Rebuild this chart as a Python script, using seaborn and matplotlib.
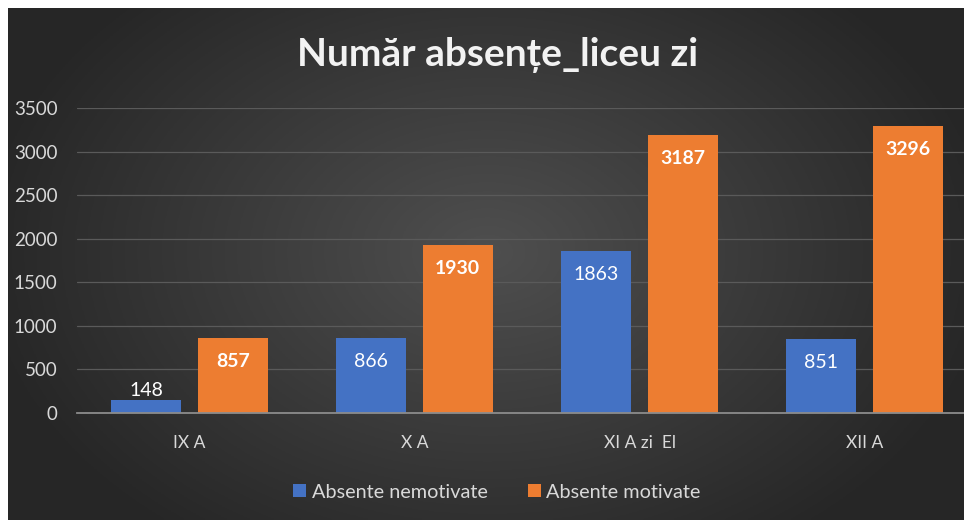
import numpy as np
import pandas as pd
import seaborn as sns
import matplotlib.pyplot as plt

# date
clase = ["IX A", "X A", "XI A zi  El", "XII A"]
nemotivate = [148, 866, 1863, 851]
motivate = [857, 1930, 3187, 3296]
serii = ["Absente nemotivate", "Absente motivate"]
culori = ["#4472C4", "#ED7D31"]

df = pd.DataFrame({
    "clasa": clase * 2,
    "valoare": nemotivate + motivate,
    "tip": [serii[0]] * len(clase) + [serii[1]] * len(clase),
})

sns.set_style("dark")
plt.rcParams["font.family"] = ["Lato", "DejaVu Sans"]

W, H = 964, 520
fig = plt.figure(figsize=(W / 100, H / 100), dpi=100, facecolor="white")

# fundal gri inchis cu gradient radial
bg = fig.add_axes([8 / W, 0, (W - 8) / W, (H - 8) / H])
yy, xx = np.mgrid[0:200, 0:300]
r = np.sqrt(((xx - 150) / 150) ** 2 + ((yy - 95) / 130) ** 2)
val = np.clip(0.31 - 0.15 * r, 0.15, 0.31)
bg.imshow(np.dstack([val, val, val]), aspect="auto", extent=[0, 1, 0, 1])
bg.set_axis_off()

ax = fig.add_axes([77 / W, (H - 413) / H, 900 / W, (413 - 108) / H])
ax.set_facecolor("none")

sns.barplot(data=df, x="clasa", y="valoare", hue="tip", hue_order=serii,
            palette=culori, width=0.77, gap=0.19, saturation=1, ax=ax, zorder=3,
            edgecolor="none", linewidth=0)

ax.set_ylim(0, 3500)
ax.set_xlim(-0.5, 3.5)
ax.set_yticks(range(0, 3501, 500))
ax.set_xlabel("")
ax.set_ylabel("")
ax.grid(axis="y", color="#5a5a5a", lw=0.9, zorder=0)
ax.grid(axis="x", visible=False)
for s in ["top", "right", "left"]:
    ax.spines[s].set_visible(False)
ax.spines["bottom"].set_color("#8c8c8c")
ax.spines["bottom"].set_linewidth(1.3)
ax.spines["bottom"].set_zorder(4)
ax.tick_params(axis="y", length=0, pad=14, labelsize=13.5, labelcolor="#d9d9d9")
ax.tick_params(axis="x", length=0, pad=16, labelsize=12.5, labelcolor="#d9d9d9")

# etichete valori
for i, cont in enumerate(ax.containers):
    for bar in cont:
        h = bar.get_height()
        xc = bar.get_x() + bar.get_width() / 2
        if h < 400:
            ax.annotate(f"{h:.0f}", (xc, h), xytext=(0, 7), textcoords="offset points",
                        ha="center", va="center", color="white", fontsize=14, zorder=5)
        else:
            ax.annotate(f"{h:.0f}", (xc, h), xytext=(0, -17), textcoords="offset points",
                        ha="center", va="center", color="white", fontsize=14,
                        fontweight="bold" if i == 1 else "normal", zorder=5)

sns.move_legend(ax, "center", bbox_to_anchor=(497 / W, 1 - 492 / H),
                bbox_transform=fig.transFigure, ncol=2, frameon=False, title=None,
                fontsize=14.3, labelcolor="#d9d9d9", handlelength=0.65, handleheight=0.65,
                handletextpad=0.3, columnspacing=2.0)

fig.text(498 / W, 1 - 55 / H, "Număr absențe_liceu zi", ha="center", va="center",
         fontsize=28, fontweight="bold", color="#f2f2f2")

fig.savefig("out.png", dpi=100, facecolor="white")
